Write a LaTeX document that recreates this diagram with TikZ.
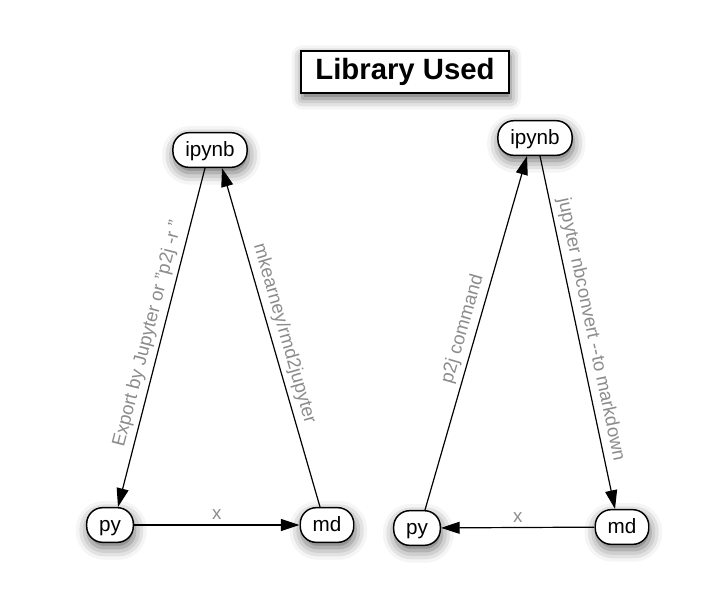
\documentclass[tikz,border=0pt]{standalone}
\usepackage{fontspec}
\setmainfont{Liberation Sans}
\usetikzlibrary{arrows.meta,calc,shadows.blur}

\begin{document}
\begin{tikzpicture}
    [
      x=0.75pt, y=-0.75pt,
      file/.style={rectangle, rounded corners=12pt, draw, line width=1.1pt, fill=white,
        minimum height=26pt, inner xsep=9.3pt, text height=11pt, text depth=1pt,
        font=\fontsize{15.5}{18}\selectfont,
        blur shadow={shadow xshift=1pt, shadow yshift=-4pt, shadow blur radius=9pt, shadow opacity=60}},
      tool/.style={-{Triangle[length=14pt, width=9pt]}, line width=0.9pt},
      how/.style={sloped, above, text=gray!90, font=\fontsize{14}{16}\selectfont}
    ]
    \useasboundingbox (0,0) rectangle (710,594);
    \node (title) [draw, line width=1.5pt, fill=white, minimum width=156pt, minimum height=32pt,
      font=\bfseries\fontsize{22}{24}\selectfont,
      blur shadow={shadow xshift=1pt, shadow yshift=-4pt, shadow blur radius=8pt, shadow opacity=60}]
      at (405,72) {Library Used};
    % left: the tools used
    \node (ipynbL) [file] at (210,150) {ipynb};
    \node (pyL) [file] at (110,525) {py};
    \node (mdL) [file] at (327,525) {md};
    \draw [tool] ($(ipynbL.south)+(-5,0)$) -- node [how] {Export by Jupyter or "p2j -r "} ($(pyL.north)+(8,0)$);
    \draw [tool] ($(mdL.north)+(-7,0)$) -- node [how] {mkearney/rmd2jupyter} ($(ipynbL.south)+(12,0)$);
    \draw [tool] (pyL) -- node [how] {x} (mdL);
    % right: the other way round
    \node (ipynbR) [file] at (535,138) {ipynb};
    \node (pyR) [file] at (417,528) {py};
    \node (mdR) [file] at (622,527) {md};
    \draw [tool] ($(pyR.north)+(8,0)$) -- node [how] {p2j command} ($(ipynbR.south)+(-8,0)$);
    \draw [tool] ($(ipynbR.south)+(5,0)$) -- node [how] {jupyter nbconvert -{}-to markdown} ($(mdR.north)+(-7,0)$);
    \draw [tool] (mdR) -- node [how] {x} (pyR);
\end{tikzpicture}
\end{document}
